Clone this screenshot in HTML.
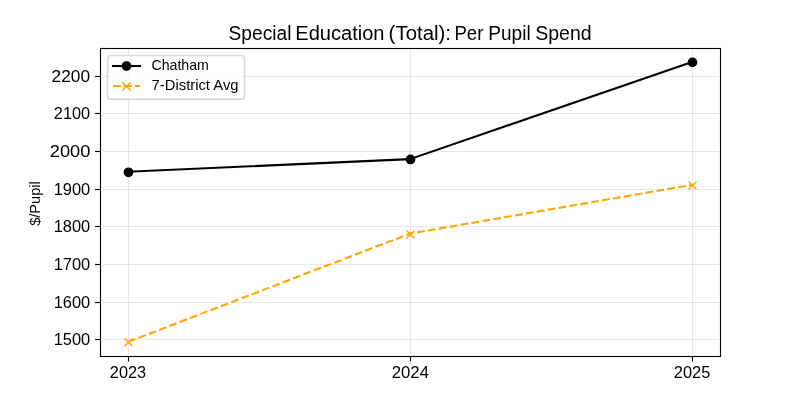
<!DOCTYPE html>
<html><head><meta charset="utf-8"><style>
html,body{margin:0;padding:0;background:#fff;width:800px;height:400px;overflow:hidden}
svg{display:block;will-change:transform}
text{font-family:"Liberation Sans",sans-serif;fill:#000}
</style></head><body>
<svg width="800" height="400" viewBox="0 0 800 400">
<rect x="0" y="0" width="800" height="400" fill="#fff"/>
<!-- grid -->
<g stroke="#b0b0b0" stroke-opacity="0.3" stroke-width="1.11" fill="none">
<line x1="128.5" y1="48" x2="128.5" y2="356"/>
<line x1="410.5" y1="48" x2="410.5" y2="356"/>
<line x1="692.5" y1="48" x2="692.5" y2="356"/>
<line x1="100" y1="76.5" x2="720" y2="76.5"/>
<line x1="100" y1="113.5" x2="720" y2="113.5"/>
<line x1="100" y1="151.5" x2="720" y2="151.5"/>
<line x1="100" y1="189.5" x2="720" y2="189.5"/>
<line x1="100" y1="226.5" x2="720" y2="226.5"/>
<line x1="100" y1="264.5" x2="720" y2="264.5"/>
<line x1="100" y1="302.5" x2="720" y2="302.5"/>
<line x1="100" y1="339.5" x2="720" y2="339.5"/>
</g>
<!-- data lines -->
<polyline points="128.18,341.85 410,233.6 691.82,184.9" fill="none" stroke="#ffa500" stroke-width="2.08" stroke-dasharray="7.71 3.33"/>
<g stroke="#ffa500" stroke-width="1.39" stroke-linecap="butt">
<path d="M124.50,338.35 L132.50,346.35 M124.50,346.35 L132.50,338.35"/>
<path d="M406.50,230.55 L414.50,238.55 M406.50,238.55 L414.50,230.55"/>
<path d="M688.50,181.40 L696.50,189.40 M688.50,189.40 L696.50,181.40"/>
</g>
<polyline points="128.18,171.69 410,159.14 691.82,62.0" stroke-linecap="square" fill="none" stroke="#000" stroke-width="2.08" stroke-linejoin="round"/>
<g fill="#000" stroke="#000" stroke-width="1.39">
<circle cx="128.5" cy="172.3" r="4.17"/>
<circle cx="410.5" cy="159.45" r="4.17"/>
<circle cx="692.5" cy="62.4" r="4.17"/>
</g>
<!-- spines -->
<rect x="100.5" y="48.5" width="620" height="308" fill="none" stroke="#000" stroke-width="1.11"/>
<!-- ticks -->
<g stroke="#000" stroke-width="1.11">
<line x1="95.1" y1="76.5" x2="100" y2="76.5"/>
<line x1="95.1" y1="113.5" x2="100" y2="113.5"/>
<line x1="95.1" y1="151.5" x2="100" y2="151.5"/>
<line x1="95.1" y1="189.5" x2="100" y2="189.5"/>
<line x1="95.1" y1="226.5" x2="100" y2="226.5"/>
<line x1="95.1" y1="264.5" x2="100" y2="264.5"/>
<line x1="95.1" y1="302.5" x2="100" y2="302.5"/>
<line x1="95.1" y1="339.5" x2="100" y2="339.5"/>
<line x1="128.5" y1="356.5" x2="128.5" y2="361.4"/>
<line x1="410.5" y1="356.5" x2="410.5" y2="361.4"/>
<line x1="692.5" y1="356.5" x2="692.5" y2="361.4"/>
</g>
<!-- legend -->
<rect x="107.75" y="55.6" width="136.65" height="43.65" rx="2.8" ry="2.8" fill="#fff" fill-opacity="0.8" stroke="#cccccc" stroke-opacity="0.8" stroke-width="1.39"/>
<line x1="113" y1="66" x2="140" y2="66" stroke="#000" stroke-width="2.08" stroke-linecap="square"/>
<circle cx="126.5" cy="66" r="4.17" fill="#000" stroke="#000" stroke-width="1.39"/>
<line x1="113" y1="86" x2="140" y2="86" stroke="#ffa500" stroke-width="2.08" stroke-dasharray="7.71 3.33"/>
<path d="M122.33,82.23 L130.67,90.57 M122.33,90.57 L130.67,82.23" stroke="#ffa500" stroke-width="1.39"/>
<!-- text -->
<g font-size="19.4"><text x="228.54" y="39.7" textLength="62.89" lengthAdjust="spacingAndGlyphs">Special</text><text x="295.33" y="39.7" textLength="89.17" lengthAdjust="spacingAndGlyphs">Education</text><text x="388.64" y="39.7" textLength="62.39" lengthAdjust="spacingAndGlyphs">(Total):</text><text x="454.4" y="39.7" textLength="28.96" lengthAdjust="spacingAndGlyphs">Per</text><text x="488.27" y="39.7" textLength="42.35" lengthAdjust="spacingAndGlyphs">Pupil</text><text x="535.22" y="39.7" textLength="56.46" lengthAdjust="spacingAndGlyphs">Spend</text></g>
<text x="151.44" y="70" font-size="13.9" textLength="57.5" lengthAdjust="spacingAndGlyphs">Chatham</text>
<text x="151.64" y="90" font-size="13.9" textLength="86.89" lengthAdjust="spacingAndGlyphs">7-District Avg</text>
<g font-size="16.6"><text x="51.58" y="82" textLength="38.51" lengthAdjust="spacingAndGlyphs">2200</text><text x="53.85" y="119" textLength="36.26" lengthAdjust="spacingAndGlyphs">2100</text><text x="49.81" y="157" textLength="40.49" lengthAdjust="spacingAndGlyphs">2000</text><text x="53.64" y="195" textLength="36.55" lengthAdjust="spacingAndGlyphs">1900</text><text x="53.64" y="232" textLength="36.55" lengthAdjust="spacingAndGlyphs">1800</text><text x="53.64" y="270" textLength="36.55" lengthAdjust="spacingAndGlyphs">1700</text><text x="53.64" y="308" textLength="36.55" lengthAdjust="spacingAndGlyphs">1600</text><text x="53.64" y="345" textLength="36.55" lengthAdjust="spacingAndGlyphs">1500</text></g>
<g font-size="16.6"><text x="109.85" y="378" textLength="36.22" lengthAdjust="spacingAndGlyphs">2023</text><text x="391.79" y="378" textLength="37.18" lengthAdjust="spacingAndGlyphs">2024</text><text x="673.84" y="378" textLength="36.42" lengthAdjust="spacingAndGlyphs">2025</text></g>
<text transform="translate(40,203.5) rotate(-90)" font-size="14.2" text-anchor="middle" textLength="44.66" lengthAdjust="spacingAndGlyphs">$/Pupil</text>
</svg>
</body></html>
